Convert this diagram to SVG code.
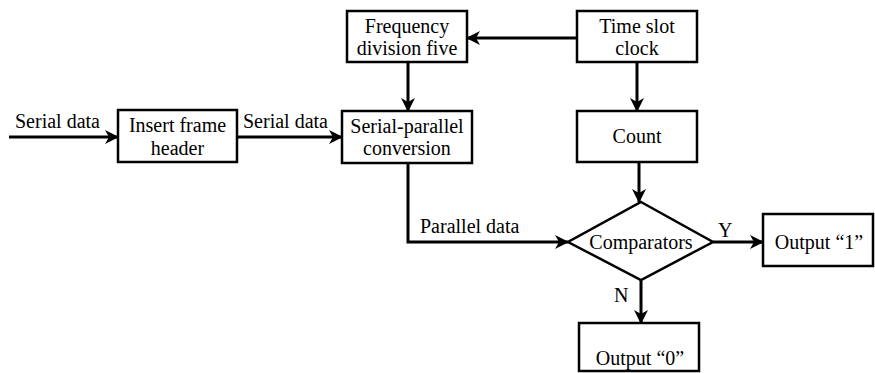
<svg xmlns="http://www.w3.org/2000/svg" width="875" height="373" viewBox="0 0 875 373" font-family="'Liberation Serif', 'Times New Roman', 'DejaVu Serif', serif">
<defs>
<marker id="ah" viewBox="0 0 14 14" refX="13" refY="7" markerWidth="14" markerHeight="14" markerUnits="userSpaceOnUse" orient="auto">
<path d="M0,0 L14,7 L0,14 L4,7 z" fill="#000"/>
</marker>
<style>
.box{fill:#fff;stroke:#000;stroke-width:2.5}
text{font-family:'Liberation Serif','Times New Roman','DejaVu Serif',serif;font-size:20px;fill:#000}
.t{text-anchor:middle}
.c{fill:none;stroke:#000;stroke-width:3;marker-end:url(#ah)}
</style>
</defs>
<rect width="875" height="373" fill="#fff"/>
<g id="connectors">
<line class="c" x1="9" y1="137" x2="118" y2="137"/>
<line class="c" x1="237" y1="137" x2="342" y2="137"/>
<line class="c" x1="577" y1="38" x2="467" y2="38"/>
<line class="c" x1="408" y1="62" x2="408" y2="111"/>
<line class="c" x1="637" y1="62" x2="637" y2="111"/>
<line class="c" x1="639" y1="162" x2="639" y2="202"/>
<polyline class="c" points="408,163 408,242 568,242"/>
<line class="c" x1="713" y1="242" x2="763" y2="242"/>
<line class="c" x1="641" y1="280" x2="641" y2="323"/>
<text x="15" y="128">Serial data</text>
<text x="243" y="128">Serial data</text>
<text x="420" y="233">Parallel data</text>
<text x="718" y="237">Y</text>
<text x="614" y="302">N</text>
</g>
<g id="insert-frame-header">
<rect class="box" x="118" y="110" width="119" height="52"/>
<text class="t" x="177.5" y="132">Insert frame</text>
<text class="t" x="177.5" y="155">header</text>
</g>
<g id="frequency-division">
<rect class="box" x="347" y="11" width="120" height="51"/>
<text class="t" x="407" y="33">Frequency</text>
<text class="t" x="407" y="55">division five</text>
</g>
<g id="time-slot-clock">
<rect class="box" x="577" y="11" width="120" height="51"/>
<text class="t" x="637" y="33">Time slot</text>
<text class="t" x="637" y="55">clock</text>
</g>
<g id="serial-parallel">
<rect class="box" x="342" y="111" width="130" height="52"/>
<text class="t" x="407" y="133">Serial-parallel</text>
<text class="t" x="407" y="155">conversion</text>
</g>
<g id="count">
<rect class="box" x="577" y="111" width="120" height="51"/>
<text class="t" x="637" y="143">Count</text>
</g>
<g id="comparators">
<polygon class="box" points="641,202 713,242 641,280 568,242"/>
<text class="t" x="641" y="249">Comparators</text>
</g>
<g id="output-1">
<rect class="box" x="763" y="214" width="110" height="52"/>
<text class="t" x="819" y="249">Output “1”</text>
</g>
<g id="output-0">
<rect class="box" x="579" y="323" width="120" height="48"/>
<text class="t" x="640" y="365">Output “0”</text>
</g>
</svg>
